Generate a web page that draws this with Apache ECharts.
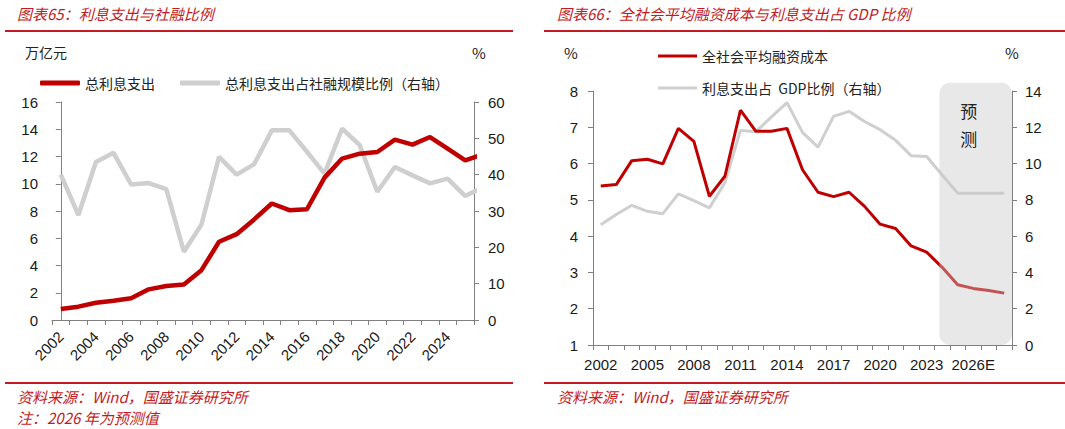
<!DOCTYPE html>
<html>
<head>
<meta charset="utf-8">
<script src="https://cdn.jsdelivr.net/npm/echarts@6/dist/echarts.min.js"></script>
<style>
html,body{margin:0;padding:0;background:#fff;}
#c{width:1065px;height:429px;}
</style>
</head>
<body>
<div id="c"></div>
<script>
// ---------- data ----------
// Chart 65: axis categories (2002-2025); series include 2026 point (clipped at the plot edge)
const years1 = ['2002','2003','2004','2005','2006','2007','2008','2009','2010','2011','2012','2013','2014','2015','2016','2017','2018','2019','2020','2021','2022','2023','2024','2025'];
const interestTotal = [0.81, 0.98, 1.27, 1.42, 1.59, 2.25, 2.49, 2.61, 3.66, 5.74, 6.30, 7.38, 8.55, 8.06, 8.13, 10.45, 11.85, 12.21, 12.33, 13.24, 12.87, 13.43, 12.58, 11.72, 12.16];
const interestShare = [40.0, 28.9, 43.5, 46.0, 37.3, 37.7, 36.0, 18.8, 26.3, 44.9, 40.0, 42.9, 52.2, 52.2, 46.3, 40.3, 52.7, 48.1, 35.3, 42.1, 39.8, 37.6, 38.9, 34.1, 36.5];

// Chart 66
const years2 = ['2002','2003','2004','2005','2006','2007','2008','2009','2010','2011','2012','2013','2014','2015','2016','2017','2018','2019','2020','2021','2022','2023','2024','2025','2026E','2027E','2028E'];
const financingCost = [5.38, 5.42, 6.08, 6.12, 5.99, 6.97, 6.61, 5.10, 5.65, 7.47, 6.89, 6.89, 6.97, 5.83, 5.21, 5.09, 5.21, 4.82, 4.33, 4.21, 3.73, 3.56, 3.14, 2.66, 2.56, 2.50, 2.43];
const interestGdp = [6.63, 7.19, 7.70, 7.37, 7.24, 8.33, 7.96, 7.56, 8.94, 11.83, 11.76, 12.57, 13.36, 11.72, 10.91, 12.60, 12.88, 12.32, 11.87, 11.28, 10.43, 10.39, 9.37, 8.37, 8.37, 8.37, 8.37];

const names1 = ['总利息支出', '总利息支出占社融规模比例（右轴）'];
const names2 = ['全社会平均融资成本', '利息支出占  GDP比例（右轴）'];
const forecastLabel = '预\n测';
// ---------------------------

const RED = '#c00000', GREY = '#cfcfcf', TRED = '#c41a23';
const CJK = '"Noto Sans CJK SC", sans-serif';
const NUM = '"Liberation Sans", Arial, sans-serif';
const txt = (x, y, t, size, color, italic, align) => ({
  type: 'text', silent: true,
  style: { x: x, y: y, text: t, fill: color, fontSize: size, fontFamily: CJK,
           fontStyle: italic ? 'italic' : 'normal', align: align || 'left', verticalAlign: 'middle' }
});
const rule = (x1, x2, y) => ({ type: 'line', silent: true, shape: { x1: x1, y1: y, x2: x2, y2: y }, style: { stroke: TRED, lineWidth: 2 } });

const axisLabelStyle = { color: '#1a1a1a', fontSize: 15, fontFamily: NUM };
const lineAxis = { lineStyle: { color: '#808080', width: 1 } };
const tickOut = { show: true, length: 5, lineStyle: { color: '#808080' } };

const chart = echarts.init(document.getElementById('c'), null, { renderer: 'svg', width: 1065, height: 429 });

chart.setOption({
  animation: false,
  backgroundColor: '#fff',
  grid: [
    { left: 52, top: 102, width: 422, height: 218 },
    { left: 593, top: 91, width: 419, height: 254 }
  ],
  xAxis: [
    { type: 'category', gridIndex: 0, data: years1, boundaryGap: true,
      axisLine: lineAxis, axisTick: Object.assign({ interval: 0 }, tickOut),
      axisLabel: Object.assign({ interval: 1, rotate: 45, margin: 14 }, axisLabelStyle),
      splitLine: { show: false } },
    { type: 'value', gridIndex: 0, min: -0.5, max: years1.length - 0.5, show: false },
    { type: 'category', gridIndex: 1, data: years2, boundaryGap: true,
      axisLine: lineAxis, axisTick: Object.assign({ interval: 0 }, tickOut),
      axisLabel: Object.assign({ interval: 2, margin: 12 }, axisLabelStyle),
      splitLine: { show: false } }
  ],
  yAxis: [
    { type: 'value', gridIndex: 0, position: 'left', min: 0, max: 16, interval: 2,
      axisLine: Object.assign({ show: true }, lineAxis), axisTick: tickOut,
      axisLabel: Object.assign({ margin: 14 }, axisLabelStyle), splitLine: { show: false } },
    { type: 'value', gridIndex: 0, position: 'right', min: 0, max: 60, interval: 10,
      axisLine: Object.assign({ show: true }, lineAxis), axisTick: tickOut,
      axisLabel: Object.assign({ margin: 14 }, axisLabelStyle), splitLine: { show: false } },
    { type: 'value', gridIndex: 1, position: 'left', min: 1, max: 8, interval: 1,
      axisLine: Object.assign({ show: true }, lineAxis), axisTick: tickOut,
      axisLabel: Object.assign({ margin: 15 }, axisLabelStyle), splitLine: { show: false } },
    { type: 'value', gridIndex: 1, position: 'right', min: 0, max: 14, interval: 2,
      axisLine: Object.assign({ show: true }, lineAxis), axisTick: tickOut,
      axisLabel: Object.assign({ margin: 13 }, axisLabelStyle), splitLine: { show: false } }
  ],
  legend: [
    { left: 35, top: 71, itemWidth: 40, itemHeight: 5, itemGap: 25, icon: 'roundRect',
      data: [names1[0], names1[1]],
      textStyle: { fontSize: 14, color: '#222', fontFamily: CJK } },
    { left: 653, top: 44, orient: 'vertical', itemWidth: 39, itemHeight: 3, itemGap: 18, icon: 'rect',
      data: [names2[0], names2[1]],
      textStyle: { fontSize: 14, color: '#222', fontFamily: CJK } }
  ],
  series: [
    { name: names1[1], type: 'line', xAxisIndex: 1, yAxisIndex: 1, symbol: 'none', color: GREY,
      lineStyle: { width: 4.5, color: GREY }, data: interestShare.map((v, i) => [i, v]) },
    { name: names1[0], type: 'line', xAxisIndex: 1, yAxisIndex: 0, symbol: 'none', color: RED,
      lineStyle: { width: 4.5, color: RED }, data: interestTotal.map((v, i) => [i, v]) },
    { name: names2[1], type: 'line', xAxisIndex: 2, yAxisIndex: 3, symbol: 'none', color: GREY,
      lineStyle: { width: 3, color: GREY }, data: interestGdp },
    { name: names2[0], type: 'line', xAxisIndex: 2, yAxisIndex: 2, symbol: 'none', color: RED,
      lineStyle: { width: 3, color: RED }, data: financingCost },
    { type: 'custom', xAxisIndex: 2, yAxisIndex: 2, z: 5, silent: true, data: [[0, 0]],
      renderItem: function (params, api) {
        const from = 21;
        const a = api.coord([from, 8.23]);
        const b = api.coord([from + 1, 8.23]);
        const step = b[0] - a[0];
        const x0 = a[0] + 0.82 * step;
        const last = api.coord([years2.length - 1, 1]);
        const x1 = last[0] + 0.5 * step;
        const y0 = a[1], y1 = last[1];
        return { type: 'group', children: [
          { type: 'rect', shape: { x: x0, y: y0, width: x1 - x0, height: y1 - y0, r: 11 },
            style: { fill: 'rgba(200,200,200,0.42)' } },
          { type: 'text', style: { text: forecastLabel, x: (x0 + x1) / 2 - 7, y: y0 + 14,
            fill: '#222', fontSize: 17, fontFamily: CJK, align: 'center', verticalAlign: 'top', lineHeight: 28 } }
        ] };
      } }
  ],
  graphic: [
    txt(17, 13, '图表65：利息支出与社融比例', 15, TRED, true),
    txt(557, 13, '图表66：全社会平均融资成本与利息支出占 GDP 比例', 15, TRED, true),
    rule(5, 513, 31), rule(544, 1065, 31),
    txt(25, 52, '万亿元', 14, '#222', false),
    txt(479, 52, '%', 15, '#222', false, 'center'),
    txt(571, 52, '%', 15, '#222', false, 'center'),
    txt(1012, 52, '%', 15, '#222', false, 'center'),
    rule(5, 513, 383), rule(544, 1065, 383),
    txt(17, 396, '资料来源：Wind，国盛证券研究所', 15, TRED, true),
    txt(17, 417, '注：2026 年为预测值', 15, TRED, true),
    txt(557, 396, '资料来源：Wind，国盛证券研究所', 15, TRED, true)
  ]
});
</script>
</body>
</html>
